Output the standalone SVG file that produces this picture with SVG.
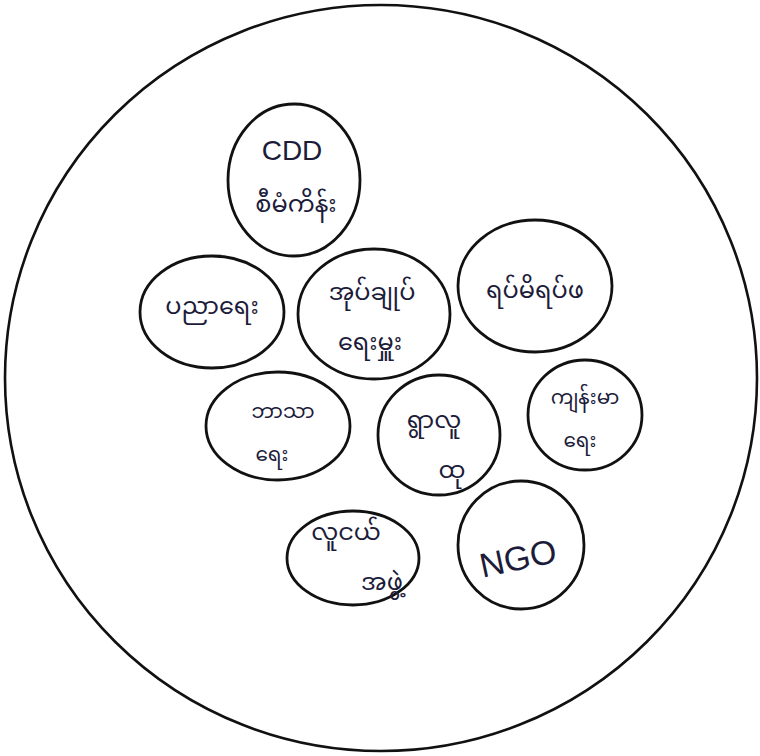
<svg xmlns="http://www.w3.org/2000/svg" width="760" height="756" viewBox="0 0 760 756">
<style>
.b{fill:none;stroke:#111;stroke-width:2.6}
.n{fill:none;stroke:#111;stroke-width:2.8}
.t{font-family:"Noto Sans Myanmar","Myanmar Text","Padauk","Noto Sans","DejaVu Sans",sans-serif;font-size:24px;fill:#1c1c3a;text-anchor:middle}
.s{font-size:20px}
.e{font-family:"Liberation Sans","DejaVu Sans",sans-serif;fill:#1c1c3a;text-anchor:middle}
</style>
<rect width="760" height="756" fill="#fff"/>
<ellipse class="b" cx="381" cy="378" rx="376" ry="373"/>
<g id="connectors"></g>
<g id="n1"><ellipse class="n" cx="294" cy="180" rx="66" ry="76"/><text class="e" x="292" y="160" font-size="28">CDD</text><text class="t" x="296" y="212">စီမံကိန်း</text></g>
<g id="n2"><ellipse class="n" cx="212" cy="312" rx="72" ry="56"/><text class="t" x="212" y="314">ပညာရေး</text></g>
<g id="n3"><ellipse class="n" cx="374" cy="314" rx="76" ry="65"/><text class="t" x="372" y="300">အုပ်ချုပ်</text><text class="t" x="370" y="350">ရေးမှူး</text></g>
<g id="n4"><ellipse class="n" cx="535" cy="286" rx="77" ry="66"/><text class="t" x="535" y="298">ရပ်မိရပ်ဖ</text></g>
<g id="n5"><ellipse class="n" cx="278" cy="426" rx="72" ry="54"/><text class="t s" x="283" y="418">ဘာသာ</text><text class="t s" x="272" y="461">ရေး</text></g>
<g id="n6"><ellipse class="n" cx="439" cy="435" rx="61" ry="60"/><text class="t" x="434" y="428">ရွာလူ</text><text class="t" x="452" y="478">ထု</text></g>
<g id="n7"><ellipse class="n" cx="585" cy="415" rx="57" ry="55"/><text class="t s" x="585" y="404">ကျန်းမာ</text><text class="t s" x="580" y="447">ရေး</text></g>
<g id="n8"><ellipse class="n" cx="353" cy="558" rx="66" ry="47"/><text class="t" x="346" y="540" font-size="18">လူငယ်</text><text class="t" x="382" y="590" font-size="18">အဖွဲ့</text></g>
<g id="n9"><ellipse class="n" cx="521" cy="545" rx="63" ry="64"/><text class="e" x="518" y="570" font-size="34" transform="rotate(-12 518 558)">NGO</text></g>
</svg>
